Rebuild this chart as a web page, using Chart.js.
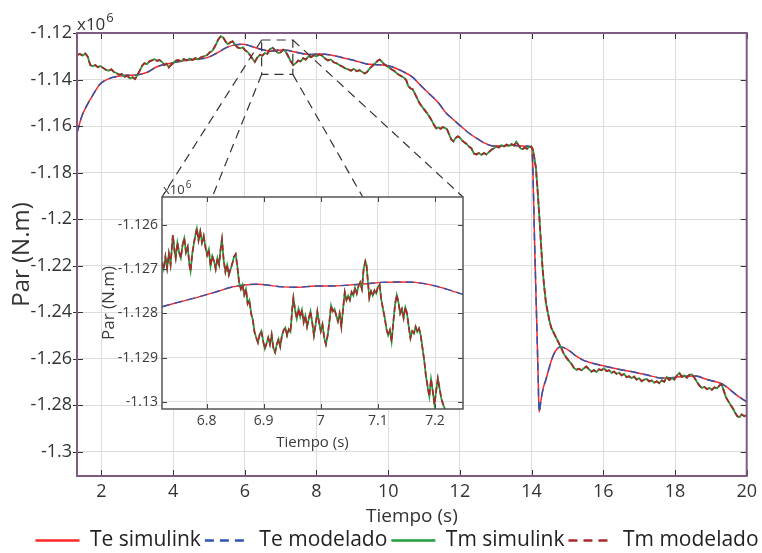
<!DOCTYPE html>
<html>
<head>
<meta charset="utf-8">
<script src="https://cdn.jsdelivr.net/npm/chart.js@4.4.1/dist/chart.umd.min.js"></script>
<style>
  html, body { margin: 0; padding: 0; background: #fff; overflow: hidden; }
  #wrap { position: relative; width: 762px; height: 553px; overflow: hidden; }
  #mainBox { position: absolute; left: 0; top: 0; width: 762px; height: 561px; }
  #insetBox { position: absolute; left: 100px; top: 170px; width: 370px; height: 285px; }
</style>
</head>
<body>
<div id="wrap">
  <div id="mainBox"><canvas id="mainChart"></canvas></div>
  <div id="insetBox"><canvas id="insetChart"></canvas></div>
</div>
<script>
// values in x10^6 N.m, time in s
const xTicks = [2, 4, 6, 8, 10, 12, 14, 16, 18, 20];
const yTicks = [-1.3, -1.28, -1.26, -1.24, -1.22, -1.2, -1.18, -1.16, -1.14, -1.12];
const insetXTicks = [6.8, 6.9, 7.0, 7.1, 7.2];
const insetYTicks = [-1.13, -1.129, -1.128, -1.127, -1.126];

// Te (smooth torque)
const teMain = [
  [1.32, -1.1630], [1.45, -1.1560], [1.60, -1.1510], [1.75, -1.1470], [1.96, -1.1420],
  [2.20, -1.1397], [2.43, -1.1387], [2.70, -1.1382], [2.95, -1.1381], [3.26, -1.1370],
  [3.55, -1.1345], [3.82, -1.1333], [4.10, -1.1325], [4.40, -1.1316], [4.70, -1.1312],
  [4.95, -1.1306], [5.20, -1.1288], [5.50, -1.1262], [5.75, -1.1250], [5.95, -1.1248],
  [6.20, -1.1258], [6.45, -1.1270], [6.72, -1.1278], [6.90, -1.1274], [7.10, -1.1273],
  [7.25, -1.1276], [7.50, -1.1285], [7.80, -1.1292], [8.10, -1.1290], [8.40, -1.1295],
  [8.83, -1.1310], [9.10, -1.1320], [9.40, -1.1333], [9.76, -1.1337], [10.10, -1.1345],
  [10.40, -1.1365], [10.68, -1.1390], [10.90, -1.1425], [11.15, -1.1462], [11.40, -1.1500],
  [11.62, -1.1545], [11.80, -1.1570], [11.99, -1.1596], [12.25, -1.1630], [12.54, -1.1660],
  [12.80, -1.1681], [12.95, -1.1686], [13.20, -1.1685], [13.47, -1.1683], [13.75, -1.1686],
  [13.99, -1.1690], [14.03, -1.1760], [14.08, -1.2080], [14.13, -1.2370], [14.18, -1.2660],
  [14.21, -1.2830], [14.26, -1.2780], [14.32, -1.2730], [14.40, -1.2690], [14.50, -1.2635],
  [14.60, -1.2588], [14.70, -1.2560], [14.80, -1.2550], [14.90, -1.2553], [15.05, -1.2566],
  [15.25, -1.2590], [15.45, -1.2608], [15.70, -1.2620], [15.97, -1.2630], [16.40, -1.2645],
  [16.81, -1.2657], [17.20, -1.2670], [17.65, -1.2684], [18.00, -1.2681], [18.30, -1.2676],
  [18.59, -1.2675], [18.85, -1.2688], [19.14, -1.2700], [19.30, -1.2708], [19.42, -1.2720],
  [19.60, -1.2742], [19.78, -1.2764], [20.00, -1.2786]
];

// Tm (noisy torque)
const tmMain = [
  [1.32, -1.1295], [1.40, -1.1290], [1.48, -1.1297], [1.55, -1.1288], [1.62, -1.1302],
  [1.69, -1.1338], [1.76, -1.1343], [1.83, -1.1338], [1.90, -1.1347], [1.97, -1.1342],
  [2.05, -1.1350], [2.12, -1.1358], [2.20, -1.1362], [2.28, -1.1356], [2.35, -1.1368],
  [2.42, -1.1372], [2.50, -1.1380], [2.57, -1.1376], [2.65, -1.1388], [2.72, -1.1384],
  [2.80, -1.1395], [2.87, -1.1390], [2.94, -1.1398], [3.00, -1.1382], [3.07, -1.1362],
  [3.14, -1.1340], [3.20, -1.1330], [3.27, -1.1334], [3.34, -1.1322], [3.41, -1.1318],
  [3.48, -1.1312], [3.55, -1.1320], [3.62, -1.1316], [3.70, -1.1326], [3.76, -1.1338],
  [3.82, -1.1332], [3.88, -1.1348], [3.94, -1.1338], [4.00, -1.1330], [4.07, -1.1320],
  [4.14, -1.1316], [4.22, -1.1322], [4.30, -1.1312], [4.38, -1.1318], [4.46, -1.1310],
  [4.54, -1.1316], [4.62, -1.1308], [4.70, -1.1314], [4.78, -1.1304], [4.86, -1.1300],
  [4.94, -1.1296], [5.02, -1.1284], [5.10, -1.1276], [5.18, -1.1254], [5.26, -1.1228],
  [5.33, -1.1214], [5.40, -1.1220], [5.47, -1.1238], [5.53, -1.1248], [5.60, -1.1240],
  [5.66, -1.1236], [5.73, -1.1250], [5.80, -1.1262], [5.87, -1.1266], [5.94, -1.1262],
  [6.01, -1.1274], [6.08, -1.1282], [6.15, -1.1296], [6.22, -1.1312], [6.28, -1.1324],
  [6.35, -1.1306], [6.42, -1.1294], [6.49, -1.1298], [6.56, -1.1286], [6.63, -1.1290],
  [6.70, -1.1270], [6.78, -1.1264], [6.86, -1.1276], [6.93, -1.1286], [7.00, -1.1283],
  [7.07, -1.1272], [7.14, -1.1280], [7.21, -1.1300], [7.28, -1.1322], [7.35, -1.1338],
  [7.42, -1.1330], [7.49, -1.1318], [7.56, -1.1322], [7.63, -1.1308], [7.70, -1.1314],
  [7.78, -1.1300], [7.85, -1.1304], [7.92, -1.1296], [8.00, -1.1300], [8.08, -1.1292],
  [8.16, -1.1298], [8.24, -1.1310], [8.32, -1.1318], [8.40, -1.1314], [8.48, -1.1326],
  [8.56, -1.1330], [8.64, -1.1338], [8.72, -1.1344], [8.80, -1.1352], [8.88, -1.1356],
  [8.96, -1.1362], [9.04, -1.1354], [9.12, -1.1364], [9.20, -1.1360], [9.28, -1.1368],
  [9.35, -1.1374], [9.42, -1.1366], [9.50, -1.1350], [9.57, -1.1340], [9.64, -1.1330],
  [9.70, -1.1320], [9.76, -1.1314], [9.82, -1.1322], [9.88, -1.1334], [9.95, -1.1340],
  [10.02, -1.1348], [10.09, -1.1356], [10.16, -1.1362], [10.23, -1.1372], [10.30, -1.1380],
  [10.37, -1.1386], [10.44, -1.1392], [10.50, -1.1402], [10.56, -1.1428], [10.62, -1.1438],
  [10.68, -1.1442], [10.74, -1.1460], [10.80, -1.1478], [10.86, -1.1498], [10.92, -1.1512],
  [10.98, -1.1524], [11.04, -1.1536], [11.10, -1.1548], [11.16, -1.1562], [11.22, -1.1578],
  [11.28, -1.1596], [11.34, -1.1610], [11.40, -1.1606], [11.46, -1.1612], [11.52, -1.1604],
  [11.58, -1.1608], [11.64, -1.1614], [11.70, -1.1636], [11.76, -1.1658], [11.82, -1.1666],
  [11.88, -1.1652], [11.94, -1.1644], [12.00, -1.1650], [12.06, -1.1662], [12.12, -1.1670],
  [12.18, -1.1676], [12.25, -1.1688], [12.32, -1.1696], [12.39, -1.1718], [12.46, -1.1722],
  [12.53, -1.1716], [12.60, -1.1724], [12.67, -1.1716], [12.74, -1.1722], [12.81, -1.1712],
  [12.88, -1.1702], [12.95, -1.1696], [13.02, -1.1688], [13.09, -1.1692], [13.16, -1.1682],
  [13.23, -1.1688], [13.30, -1.1680], [13.37, -1.1686], [13.44, -1.1678], [13.51, -1.1684],
  [13.57, -1.1668], [13.63, -1.1682], [13.69, -1.1696], [13.75, -1.1700], [13.81, -1.1692],
  [13.87, -1.1698], [13.93, -1.1690], [13.99, -1.1688], [14.04, -1.1702], [14.08, -1.1740],
  [14.12, -1.1780], [14.16, -1.1860], [14.21, -1.1975], [14.26, -1.2100], [14.30, -1.2200],
  [14.35, -1.2290], [14.40, -1.2360], [14.45, -1.2400], [14.50, -1.2440], [14.55, -1.2468],
  [14.62, -1.2490], [14.69, -1.2512], [14.76, -1.2534], [14.83, -1.2556], [14.90, -1.2580],
  [14.97, -1.2596], [15.04, -1.2610], [15.11, -1.2622], [15.18, -1.2640], [15.25, -1.2648],
  [15.32, -1.2644], [15.39, -1.2650], [15.46, -1.2642], [15.53, -1.2634], [15.60, -1.2646],
  [15.67, -1.2656], [15.74, -1.2650], [15.81, -1.2658], [15.88, -1.2646], [15.95, -1.2650],
  [16.02, -1.2642], [16.09, -1.2654], [16.16, -1.2650], [16.23, -1.2662], [16.30, -1.2656],
  [16.37, -1.2666], [16.44, -1.2660], [16.51, -1.2672], [16.58, -1.2666], [16.65, -1.2680],
  [16.72, -1.2676], [16.79, -1.2684], [16.86, -1.2678], [16.93, -1.2690], [17.00, -1.2684],
  [17.07, -1.2698], [17.14, -1.2690], [17.21, -1.2688], [17.28, -1.2698], [17.35, -1.2694],
  [17.42, -1.2704], [17.49, -1.2698], [17.56, -1.2706], [17.63, -1.2694], [17.70, -1.2700],
  [17.77, -1.2680], [17.84, -1.2692], [17.91, -1.2684], [17.98, -1.2690], [18.05, -1.2674],
  [18.12, -1.2662], [18.19, -1.2678], [18.26, -1.2672], [18.33, -1.2682], [18.40, -1.2670],
  [18.47, -1.2668], [18.54, -1.2682], [18.61, -1.2700], [18.68, -1.2716], [18.75, -1.2726],
  [18.82, -1.2722], [18.89, -1.2732], [18.96, -1.2726], [19.03, -1.2734], [19.10, -1.2724],
  [19.17, -1.2728], [19.24, -1.2716], [19.30, -1.2710], [19.36, -1.2738], [19.42, -1.2766],
  [19.48, -1.2782], [19.55, -1.2800], [19.62, -1.2816], [19.68, -1.2834], [19.74, -1.2848],
  [19.80, -1.2852], [19.86, -1.2840], [19.93, -1.2848], [20.00, -1.2842]
];

// zoomed window 6.72 - 7.25 s
const teInset = [
  [6.722, -1.12785], [6.750, -1.12775], [6.788, -1.12762], [6.820, -1.12750], [6.846, -1.12740],
  [6.887, -1.12734], [6.933, -1.12740], [6.960, -1.12741], [6.991, -1.12738], [7.020, -1.12738],
  [7.049, -1.12736], [7.080, -1.12733], [7.107, -1.12730], [7.140, -1.12729], [7.165, -1.12730],
  [7.194, -1.12736], [7.220, -1.12745], [7.249, -1.12757]
];

const tmInset = [
  [6.722, -1.12685], [6.725, -1.12700], [6.728, -1.12672], [6.731, -1.12698], [6.734, -1.12665],
  [6.737, -1.12690], [6.741, -1.12623], [6.744, -1.12660], [6.746, -1.12675], [6.749, -1.12640],
  [6.752, -1.12662], [6.755, -1.12675], [6.758, -1.12645], [6.761, -1.12630], [6.764, -1.12662],
  [6.767, -1.12650], [6.770, -1.12690], [6.772, -1.12705], [6.775, -1.12665], [6.778, -1.12640],
  [6.781, -1.12620], [6.783, -1.12608], [6.786, -1.12635], [6.789, -1.12615], [6.792, -1.12640],
  [6.795, -1.12625], [6.798, -1.12650], [6.801, -1.12668], [6.804, -1.12655], [6.807, -1.12694],
  [6.810, -1.12670], [6.813, -1.12682], [6.816, -1.12700], [6.819, -1.12675], [6.822, -1.12690],
  [6.825, -1.12650], [6.827, -1.12632], [6.830, -1.12680], [6.833, -1.12706], [6.836, -1.12690],
  [6.839, -1.12713], [6.842, -1.12700], [6.845, -1.12688], [6.848, -1.12672], [6.851, -1.12666],
  [6.854, -1.12695], [6.857, -1.12730], [6.860, -1.12745], [6.863, -1.12735], [6.866, -1.12758],
  [6.869, -1.12745], [6.872, -1.12778], [6.875, -1.12770], [6.878, -1.12800], [6.881, -1.12815],
  [6.884, -1.12842], [6.887, -1.12855], [6.890, -1.12866], [6.893, -1.12848], [6.896, -1.12840],
  [6.899, -1.12862], [6.902, -1.12880], [6.905, -1.12868], [6.908, -1.12855], [6.911, -1.12870],
  [6.914, -1.12848], [6.917, -1.12878], [6.920, -1.12888], [6.923, -1.12870], [6.926, -1.12858],
  [6.929, -1.12875], [6.932, -1.12850], [6.935, -1.12838], [6.938, -1.12832], [6.941, -1.12850],
  [6.944, -1.12836], [6.947, -1.12842], [6.950, -1.12790], [6.952, -1.12765], [6.955, -1.12792],
  [6.958, -1.12812], [6.961, -1.12790], [6.964, -1.12808], [6.967, -1.12792], [6.970, -1.12820],
  [6.973, -1.12805], [6.976, -1.12830], [6.979, -1.12812], [6.982, -1.12795], [6.985, -1.12820],
  [6.988, -1.12850], [6.991, -1.12825], [6.994, -1.12796], [6.997, -1.12820], [7.000, -1.12840],
  [7.003, -1.12825], [7.006, -1.12855], [7.009, -1.12870], [7.012, -1.12850], [7.015, -1.12820],
  [7.018, -1.12782], [7.021, -1.12795], [7.024, -1.12790], [7.027, -1.12805], [7.030, -1.12818],
  [7.033, -1.12800], [7.036, -1.12830], [7.039, -1.12790], [7.042, -1.12752], [7.045, -1.12770],
  [7.048, -1.12760], [7.051, -1.12770], [7.054, -1.12752], [7.057, -1.12760], [7.060, -1.12742],
  [7.063, -1.12755], [7.066, -1.12738], [7.069, -1.12730], [7.072, -1.12745], [7.075, -1.12700],
  [7.078, -1.12682], [7.080, -1.12690], [7.082, -1.12720], [7.085, -1.12765], [7.088, -1.12750],
  [7.091, -1.12760], [7.094, -1.12748], [7.097, -1.12755], [7.100, -1.12740], [7.103, -1.12735],
  [7.106, -1.12770], [7.109, -1.12790], [7.112, -1.12810], [7.115, -1.12835], [7.118, -1.12850],
  [7.121, -1.12838], [7.124, -1.12864], [7.127, -1.12820], [7.130, -1.12780], [7.133, -1.12758],
  [7.136, -1.12775], [7.139, -1.12800], [7.142, -1.12790], [7.145, -1.12810], [7.148, -1.12786],
  [7.151, -1.12800], [7.154, -1.12830], [7.157, -1.12856], [7.160, -1.12840], [7.163, -1.12845],
  [7.166, -1.12830], [7.169, -1.12842], [7.172, -1.12834], [7.175, -1.12850], [7.178, -1.12878],
  [7.181, -1.12905], [7.184, -1.12940], [7.187, -1.12965], [7.190, -1.12988], [7.193, -1.12948],
  [7.196, -1.12975], [7.199, -1.13006], [7.202, -1.12975], [7.205, -1.12947], [7.208, -1.12970],
  [7.211, -1.12992], [7.214, -1.13005], [7.217, -1.13015], [7.222, -1.13025], [7.230, -1.13040]
];

// dashed box marking the zoomed window on the main axes
const zoomBox = { tMin: 6.47, tMax: 7.34, yMin: -1.1378, yMax: -1.123 };
const linkEnds = [0, 0.167, 0.667, 1]; // where each dashed line meets the inset's top edge

const FONT = "'Open Sans', 'Noto Sans', sans-serif";
const colors = { teSim: '#ff2626', teMod: '#2c55b2', tmSim: '#1f9e3a', tmMod: '#a8282c' };

const toPoints = rows => rows.map(r => ({ x: r[0], y: r[1] }));
const trimNum = (v, d) => String(parseFloat(v.toFixed(d)));

function makeDatasets(te, tm, w) {
    return [
        { label: 'Te simulink', data: toPoints(te), borderColor: colors.teSim, borderWidth: w, order: 4, cubicInterpolationMode: 'monotone' },
        { label: 'Te modelado', data: toPoints(te), borderColor: colors.teMod, borderWidth: w, borderDash: [8, 5], order: 3, cubicInterpolationMode: 'monotone' },
        { label: 'Tm simulink', data: toPoints(tm), borderColor: colors.tmSim, borderWidth: w + 0.3, order: 2 },
        { label: 'Tm modelado', data: toPoints(tm), borderColor: colors.tmMod, borderWidth: w + 0.3, borderDash: [6, 3], order: 1 }
    ];
}

// inward ticks, box and the x10^6 multiplier, MATLAB style
const axisFrame = {
    id: 'axisFrame',
    beforeDraw(chart, args, opts) {
        if (!opts.fillArea) return;
        const a = chart.chartArea;
        chart.ctx.save();
        chart.ctx.fillStyle = '#ffffff';
        chart.ctx.fillRect(a.left, a.top, a.width, a.height);
        chart.ctx.restore();
    },
    afterDatasetsDraw(chart, args, opts) {
        const { ctx, chartArea: a, scales: { x, y } } = chart;
        ctx.save();
        ctx.strokeStyle = opts.tickColor;
        ctx.lineWidth = 1;
        ctx.beginPath();
        x.ticks.forEach(t => {
            const px = Math.round(x.getPixelForValue(t.value)) + 0.5;
            ctx.moveTo(px, a.bottom); ctx.lineTo(px, a.bottom - opts.len);
            ctx.moveTo(px, a.top); ctx.lineTo(px, a.top + opts.len);
        });
        y.ticks.forEach(t => {
            const py = Math.round(y.getPixelForValue(t.value)) + 0.5;
            ctx.moveTo(a.left - opts.out, py); ctx.lineTo(a.left + opts.len, py);
            ctx.moveTo(a.right - opts.len, py); ctx.lineTo(a.right, py);
        });
        ctx.stroke();
        ctx.strokeStyle = opts.borderColor;
        ctx.lineWidth = opts.borderWidth;
        ctx.strokeRect(a.left, a.top, a.width, a.height);

        ctx.fillStyle = opts.textColor;
        ctx.textBaseline = 'alphabetic';
        ctx.textAlign = 'left';
        ctx.font = opts.expSize + 'px ' + FONT;
        const bx = a.left + opts.expDx, by = a.top - opts.expDy;
        ctx.fillText('x10', bx, by);
        const w = ctx.measureText('x10').width;
        ctx.font = Math.round(opts.expSize * 0.75) + 'px ' + FONT;
        ctx.fillText('6', bx + w + 1, by - opts.expSize * 0.45);
        ctx.restore();
    }
};

const insetChart = new Chart(document.getElementById('insetChart'), {
    type: 'line',
    data: { datasets: makeDatasets(teInset, tmInset, 1.4) },
    options: {
        responsive: true,
        maintainAspectRatio: false,
        animation: false,
        elements: { point: { radius: 0 }, line: { tension: 0 } },
        layout: { padding: { top: 27, right: 7, left: 0, bottom: 0 } },
        scales: {
            x: {
                type: 'linear', min: 6.722, max: 7.249,
                afterBuildTicks: s => { s.ticks = insetXTicks.map(v => ({ value: v })); },
                afterFit: s => { s.height = 46; },
                grid: { color: '#dedede', drawTicks: false },
                border: { display: false },
                ticks: { color: '#3a3a3a', padding: 4, font: { family: FONT, size: 14 }, callback: v => trimNum(v, 1) },
                title: { display: true, text: 'Tiempo (s)', color: '#3a3a3a', padding: { top: 0, bottom: 5 }, font: { family: FONT, size: 15, lineHeight: 1 } }
            },
            y: {
                min: -1.13016, max: -1.12537,
                afterBuildTicks: s => { s.ticks = insetYTicks.map(v => ({ value: v })); },
                afterFit: s => { s.width = 62; },
                grid: { color: '#dedede', drawTicks: false },
                border: { display: false },
                ticks: { color: '#3a3a3a', padding: 4, font: { family: FONT, size: 14 }, callback: v => trimNum(v, 3) },
                title: { display: true, text: 'Par (N.m)', color: '#3a3a3a', padding: { top: 1, bottom: 0 }, font: { family: FONT, size: 17, lineHeight: 1 } }
            }
        },
        plugins: {
            legend: { display: false },
            tooltip: { enabled: false },
            axisFrame: { fillArea: true, tickColor: '#444', len: 5, out: 0, borderColor: '#555', borderWidth: 1.5, textColor: '#3a3a3a', expSize: 13, expDx: 1, expDy: 3 }
        }
    },
    plugins: [axisFrame]
});

// dashed zoom box plus the lines that lead to the inset
const zoomLinks = {
    id: 'zoomLinks',
    afterDatasetsDraw(chart) {
        const { ctx, scales: { x, y } } = chart;
        const L = x.getPixelForValue(zoomBox.tMin), R = x.getPixelForValue(zoomBox.tMax);
        const T = y.getPixelForValue(zoomBox.yMax), B = y.getPixelForValue(zoomBox.yMin);
        const box = document.getElementById('insetBox');
        const ia = insetChart.chartArea;
        const top = box.offsetTop + ia.top;
        const endX = f => box.offsetLeft + ia.left + f * (ia.right - ia.left);
        ctx.save();
        ctx.strokeStyle = '#333';
        ctx.lineWidth = 1.2;
        ctx.setLineDash([9, 6]);
        ctx.strokeRect(L, T, R - L, B - T);
        const starts = [[L, T], [L, B], [R, B], [R, T]];
        starts.forEach((p, i) => {
            ctx.beginPath();
            ctx.moveTo(p[0], p[1]);
            ctx.lineTo(endX(linkEnds[i]), top);
            ctx.stroke();
        });
        ctx.restore();
    }
};

// push the legend row to where the figure had it
const legendNudge = {
    id: 'legendNudge',
    afterLayout(chart) {
        if (!chart.legend) return;
        chart.legend.left += 23;
        chart.legend.right += 23;
    }
};

const mainChart = new Chart(document.getElementById('mainChart'), {
    type: 'line',
    data: { datasets: makeDatasets(teMain, tmMain, 1.5) },
    options: {
        responsive: true,
        maintainAspectRatio: false,
        animation: false,
        elements: { point: { radius: 0 }, line: { tension: 0 } },
        layout: { padding: { top: 33, right: 14, left: 0, bottom: 0 } },
        scales: {
            x: {
                type: 'linear', min: 1.32, max: 20,
                afterBuildTicks: s => { s.ticks = xTicks.map(v => ({ value: v })); },
                afterFit: s => { s.height = 50; },
                grid: { color: '#dddddd', drawTicks: false },
                border: { display: false },
                ticks: { color: '#333', padding: 5, font: { family: FONT, size: 18 }, callback: v => trimNum(v, 0) },
                title: { display: true, text: 'Tiempo (s)', color: '#333', padding: { top: 0, bottom: 0 }, font: { family: FONT, size: 19, lineHeight: 1 } }
            },
            y: {
                min: -1.3105, max: -1.12,
                afterBuildTicks: s => { s.ticks = yTicks.map(v => ({ value: v })); },
                afterFit: s => { s.width = 77; },
                grid: { color: '#dddddd', drawTicks: false },
                border: { display: false },
                ticks: { color: '#333', padding: 5, font: { family: FONT, size: 18 }, callback: v => trimNum(v, 2) },
                title: { display: true, text: 'Par (N.m)', color: '#333', padding: { top: 10, bottom: 0 }, font: { family: FONT, size: 24, lineHeight: 1 } }
            }
        },
        plugins: {
            legend: {
                position: 'bottom',
                reverse: true,
                labels: {
                    usePointStyle: true,
                    pointStyle: 'line',
                    pointStyleWidth: 44,
                    padding: 4,
                    color: '#222',
                    font: { family: FONT, size: 21 },
                    generateLabels: chart => Chart.defaults.plugins.legend.labels.generateLabels(chart)
                        .map(item => {
                            const ds = chart.data.datasets[item.datasetIndex];
                            return Object.assign(item, {
                                lineWidth: 2.5,
                                strokeStyle: ds.borderColor,
                                lineDash: ds.borderDash ? [9, 6] : []
                            });
                        })
                }
            },
            tooltip: { enabled: false },
            axisFrame: { fillArea: false, tickColor: '#333', len: 6, out: 4, borderColor: '#7e5b80', borderWidth: 2, textColor: '#333', expSize: 17, expDx: 0, expDy: 3 }
        }
    },
    plugins: [axisFrame, zoomLinks, legendNudge]
});
</script>
</body>
</html>
